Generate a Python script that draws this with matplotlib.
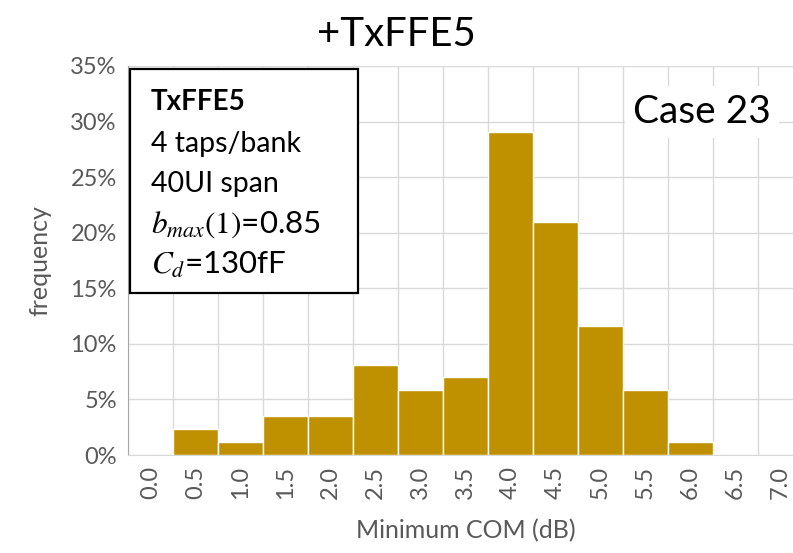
import matplotlib
matplotlib.use("Agg")
import matplotlib.pyplot as plt
from matplotlib.patches import Rectangle
from matplotlib.ticker import FuncFormatter

# Minimum COM histogram, 0.5 dB bins
bin_labels = ["0.0", "0.5", "1.0", "1.5", "2.0", "2.5", "3.0", "3.5",
              "4.0", "4.5", "5.0", "5.5", "6.0", "6.5", "7.0"]
counts = [0, 2, 1, 3, 3, 7, 5, 6, 25, 18, 10, 5, 1, 0, 0]
total = sum(counts)
freq = [c / total for c in counts]

info_lines = ["4 taps/bank", "40UI span", r"$b_{max}(1)$=0.85", r"$C_d$=130fF"]

GOLD = "#BF9000"
GRAY_TXT = "#595959"
GRID = "#D9D9D9"

plt.rcParams["font.family"] = ["Lato", "DejaVu Sans"]

fig = plt.figure(figsize=(7.93, 5.53), dpi=100)
ax = fig.add_axes([128 / 793, 1 - 455 / 553, 675 / 793, 389 / 553])

x = list(range(len(bin_labels)))
ax.bar(x, freq, width=1.0, color=GOLD, edgecolor="white", linewidth=1.0, zorder=2)

ax.set_xlim(-0.5, len(bin_labels) - 0.5)
ax.set_ylim(0, 0.35)
ax.set_yticks([i * 0.05 for i in range(8)])
ax.yaxis.set_major_formatter(FuncFormatter(lambda v, _: f"{v * 100:.0f}%"))
ax.set_xticks(x)
ax.set_xticklabels(bin_labels, rotation=90)

# vertical grid on bin edges, horizontal grid on ticks
for e in range(len(bin_labels) + 1):
    ax.axvline(e - 0.5, color=GRID, lw=1.0, zorder=0)
ax.grid(axis="y", color=GRID, lw=1.0, zorder=0)
ax.set_axisbelow(True)

for s in ["top", "right"]:
    ax.spines[s].set_visible(False)
ax.spines["left"].set_color("#A6A6A6")
ax.spines["bottom"].set_color(GRID)
ax.tick_params(length=0, labelsize=17, colors=GRAY_TXT, pad=8)

ax.set_xlabel("Minimum COM (dB)", fontsize=18, color=GRAY_TXT, labelpad=14)
ax.set_ylabel("frequency", fontsize=18, color=GRAY_TXT, labelpad=14)

fig.text(0.5, 0.938, "+TxFFE5", fontsize=29, ha="center", va="center", color="black")

# settings box
ax.add_patch(Rectangle((0.003, 0.416), 0.338, 0.576, transform=ax.transAxes,
                       facecolor="white", edgecolor="black", lw=1.6, zorder=3,
                       clip_on=False))
ax.text(0.034, 0.887, "TxFFE5", transform=ax.transAxes, fontsize=20,
        fontweight="bold", va="baseline", zorder=4)
for i, line in enumerate(info_lines):
    size = 22.5 if "$" in line else 20.5
    ax.text(0.034, 0.779 - i * 0.104, line, transform=ax.transAxes, fontsize=size,
            va="baseline", zorder=4, math_fontfamily="stix")

ax.text(0.85, 0.853, "Case 23", transform=ax.transAxes, fontsize=28,
        ha="center", va="baseline", zorder=4,
        bbox=dict(facecolor="white", edgecolor="none", pad=6))

fig.savefig("out.png", dpi=100)
